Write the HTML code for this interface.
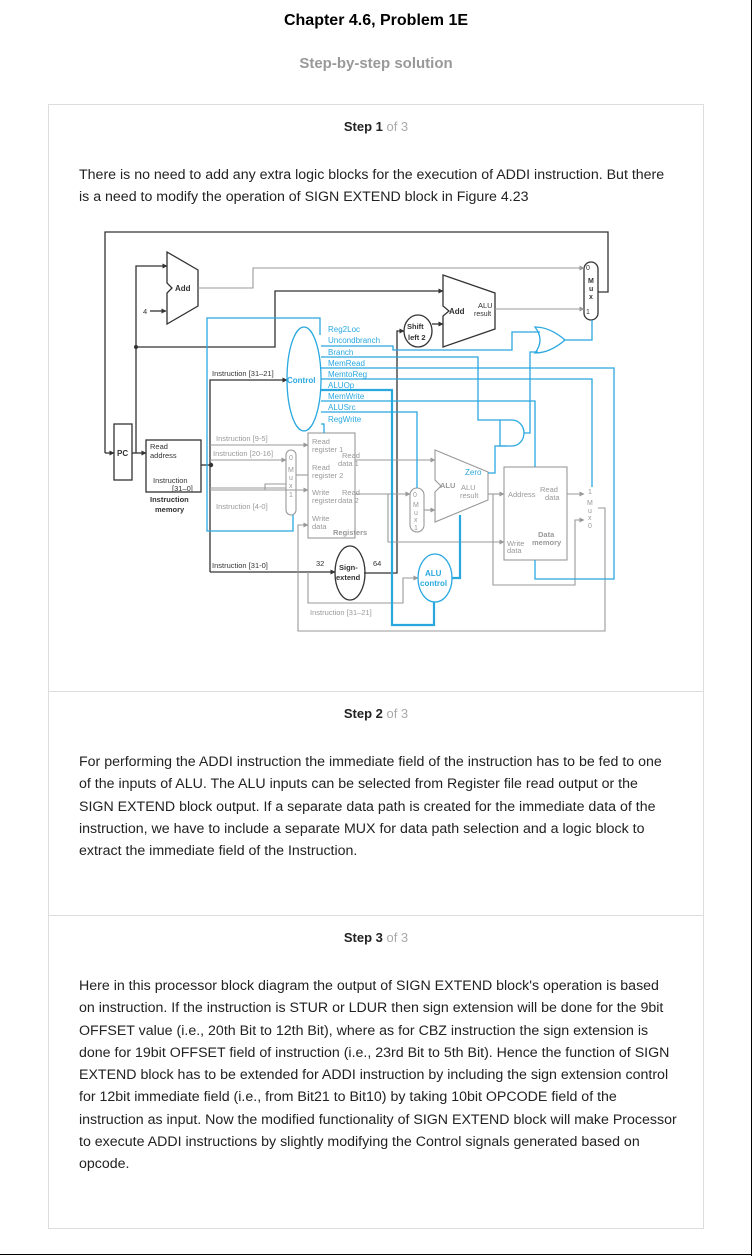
<!DOCTYPE html>
<html><head><meta charset="utf-8"><style>
body{margin:0;width:752px;height:1256px;background:#fff;font-family:"Liberation Sans",Arial,sans-serif;position:relative;overflow:hidden;border-right:1px solid #000;box-sizing:border-box}
.t{position:absolute;left:0;width:752px;text-align:center}
.card{position:absolute;left:48px;top:104px;width:654px;height:1123px;border:1px solid #ddd}
.div{position:absolute;left:48px;width:656px;border-top:1px solid #ddd}
.step{position:absolute;left:48px;width:656px;text-align:center;font-size:13px;font-weight:bold;color:#222}
.step span{color:#aaa;font-weight:normal}
.p{position:absolute;left:79px;width:620px;white-space:nowrap;font-size:14.2px;line-height:22.3px;color:#222}
svg text{font-family:"Liberation Sans",Arial,sans-serif}
</style></head><body>
<div class="t" style="top:12px;font-size:16px;font-weight:bold">Chapter 4.6, Problem 1E</div>
<div class="t" style="top:55px;font-size:15px;font-weight:bold;color:#999">Step-by-step solution</div>
<div class="card"></div>
<div class="step" style="top:119px">Step 1 <span>of 3</span></div>
<div class="p" style="top:164px">There is no need to add any extra logic blocks for the execution of ADDI instruction. But there<br>is a need to modify the operation of SIGN EXTEND block in Figure 4.23</div>
<svg style="position:absolute;left:0;top:0" width="752" height="700" font-size="8">
<defs>
<marker id="a" markerWidth="5" markerHeight="5" refX="4.5" refY="2.5" orient="auto" markerUnits="userSpaceOnUse"><path d="M0,0L5,2.5L0,5Z" fill="#333"/></marker>
<marker id="g" markerWidth="5" markerHeight="5" refX="4.5" refY="2.5" orient="auto" markerUnits="userSpaceOnUse"><path d="M0,0L5,2.5L0,5Z" fill="#999"/></marker>
</defs>
<g fill="none" stroke="#333" stroke-width="1.3">
<polyline points="105,453 105,232 608,232 608,292 598,292"/>
<line x1="105" y1="453" x2="114" y2="453" marker-end="url(#a)"/>
<rect x="114" y="424" width="18" height="56"/>
<polyline points="132,453 146,453" marker-end="url(#a)"/>
<polyline points="136,453 136,266 167,266" marker-end="url(#a)"/>
<polyline points="136,347 275,347 275,291 443,291" marker-end="url(#a)"/>
<polygon points="167,252 198,270 198,306 167,324 167,293 172,288 167,283"/>
<line x1="150" y1="311" x2="166" y2="311" marker-end="url(#a)"/>
<rect x="146" y="440" width="55" height="52"/>
<polyline points="201,465 211,465"/>
<polyline points="210,572 210,380 287,380" marker-end="url(#a)"/>
<polyline points="210,572 335,572" marker-end="url(#a)"/>
<polyline points="364,573 397,573 397,331 404,331" marker-end="url(#a)"/>
<line x1="432" y1="324" x2="443" y2="324" marker-end="url(#a)"/>
<polygon points="443,275 495,293 495,329 443,347 443,316 449,311 443,306"/>
<ellipse cx="418" cy="331" rx="14" ry="16"/>
<ellipse cx="350" cy="573" rx="15" ry="27"/>
<rect x="584" y="262" width="14" height="58" rx="7"/>
</g>
<g fill="#333"><circle cx="136" cy="347" r="2"/><circle cx="211" cy="465" r="2.2"/></g>
<g fill="none" stroke="#999" stroke-width="1.1">
<polyline points="198,288 253,288 253,268 584,268" marker-end="url(#g)"/>
<polyline points="495,309 584,309" marker-end="url(#g)"/>
<polyline points="210,445 308,445" marker-end="url(#g)"/><polyline points="210,460 286,460" marker-end="url(#g)"/><polyline points="210,490 308,490" marker-end="url(#g)"/>
<polyline points="210,488 286,488"/><polyline points="265,490 265,484 286,484"/>
<polyline points="296,475 308,475"/>
<rect x="308" y="433" width="47" height="105"/>
<rect x="286" y="450" width="10" height="65" rx="5"/>
<polyline points="355,460 435,460" marker-end="url(#g)"/>
<polyline points="355,494 410,494" marker-end="url(#g)"/><polyline points="388,494 388,542 504,542" marker-end="url(#g)"/>
<polygon points="435,450 488,472 488,500 435,522 435,492 441,486 435,480"/>
<rect x="410" y="488" width="14" height="44" rx="7"/>
<polyline points="424,510 435,510" marker-end="url(#g)"/>
<polyline points="488,494 504,494" marker-end="url(#g)"/><polyline points="493,494 493,585 575,585 575,520 584,520" marker-end="url(#g)"/>
<rect x="504" y="467" width="63" height="93"/>
<polyline points="567,494 584,494" marker-end="url(#g)"/>
<polyline points="598,508 605,508 605,631 298,631 298,525 308,525" marker-end="url(#g)"/>
<polyline points="308,572 308,603 403,603 403,578 418,578" marker-end="url(#g)"/>
</g>
<g fill="none" stroke="#29a8e0" stroke-width="1.3">
<ellipse cx="304" cy="379" rx="17" ry="52"/>
<polyline points="320,335 320,318 207,318 207,531 293,531 293,515"/>
<polyline points="321,346 393,346 393,350 512,350 512,332 540,332"/>
<polyline points="321,357 478,357 478,420 500,420"/>
<polyline points="321,368 614,368 614,579 535,579 535,560"/>
<polyline points="321,379 592,379 592,487"/>
<polyline points="321,401 535,401 535,467"/>
<polyline points="321,412 417,412 417,488"/>
<polyline points="321,424 324,424 324,433"/>
<path d="M535,327 Q550,327 565,340 Q550,353 535,353 Q545,340 535,327Z"/>
<polyline points="565,340 592,340 592,320"/>
<path d="M500,420 L512,420 A12,13 0 0 1 512,446 L500,446Z"/>
<polyline points="524,433 530,433 530,352 538,352"/>
<polyline points="488,473 495,473 495,446 506,446"/>
<ellipse cx="435" cy="578" rx="17" ry="24"/>
</g>
<g fill="none" stroke="#29a8e0" stroke-width="2.2">
<polyline points="321,390 392,390 392,625 434,625 434,602"/>
<polyline points="452,578 460,578 460,515"/>
</g>
<g fill="#333" font-weight="bold">
<text x="175" y="291">Add</text><text x="117" y="456">PC</text>
<text x="449" y="314" font-size="8">Add</text>
<text x="407" y="329" font-size="7.5">Shift</text><text x="408" y="340" font-size="7.5">left 2</text>
<text x="339" y="570" font-size="7.5">Sign-</text><text x="336" y="580" font-size="7.5">extend</text>
<text x="588" y="283" font-size="7">M</text><text x="589" y="291" font-size="7">u</text><text x="589" y="299" font-size="7">x</text>
<text x="150" y="502" font-size="7.5">Instruction</text><text x="155" y="512" font-size="7.5">memory</text>
</g>
<g fill="#333" font-size="7.5">
<text x="143" y="314">4</text><text x="150" y="449">Read</text><text x="150" y="458">address</text>
<text x="153" y="483">Instruction</text><text x="172" y="491">[31–0]</text>
<text x="212" y="376">Instruction [31–21]</text><text x="212" y="568">Instruction [31-0]</text>
<text x="478" y="308">ALU</text><text x="474" y="316" font-size="7">result</text>
<text x="586" y="270" font-size="7">0</text><text x="586" y="314" font-size="7">1</text>
<text x="316" y="566">32</text><text x="373" y="566">64</text>
</g>
<g fill="#999" font-size="7.5">
<text x="216" y="441">Instruction [9-5]</text><text x="213" y="456">Instruction [20-16]</text><text x="216" y="509">Instruction [4-0]</text>
<text x="312" y="444">Read</text><text x="312" y="452">register 1</text><text x="312" y="470">Read</text><text x="312" y="478">register 2</text>
<text x="312" y="495">Write</text><text x="312" y="503">register</text><text x="312" y="521">Write</text><text x="312" y="529">data</text>
<text x="333" y="535" font-weight="bold">Registers</text>
<text x="342" y="458">Read</text><text x="338" y="466">data 1</text><text x="342" y="495">Read</text><text x="338" y="503">data 2</text>
<text x="440" y="488" font-weight="bold">ALU</text><text x="461" y="490">ALU</text><text x="460" y="498">result</text>
<text x="508" y="497">Address</text><text x="540" y="492">Read</text><text x="545" y="500">data</text>
<text x="507" y="546">Write</text><text x="507" y="553">data</text><text x="538" y="537" font-weight="bold">Data</text><text x="532" y="545" font-weight="bold">memory</text>
<text x="310" y="615">Instruction [31–21]</text>
<text x="289" y="460" font-size="7">0</text><text x="288" y="472" font-size="7">M</text><text x="289" y="480" font-size="7">u</text><text x="289" y="488" font-size="7">x</text><text x="289" y="497" font-size="7">1</text>
<text x="413" y="497" font-size="7">0</text><text x="413" y="507" font-size="7">M</text><text x="414" y="515" font-size="7">u</text><text x="414" y="522" font-size="7">x</text><text x="414" y="530" font-size="7">1</text>
<text x="588" y="494" font-size="7">1</text><text x="587" y="505" font-size="7">M</text><text x="588" y="513" font-size="7">u</text><text x="588" y="520" font-size="7">x</text><text x="588" y="528" font-size="7">0</text>
</g>
<g fill="#29a8e0" font-size="8">
<text x="287" y="383" font-weight="bold">Control</text>
<text x="328" y="332">Reg2Loc</text><text x="328" y="343">Uncondbranch</text><text x="328" y="355">Branch</text>
<text x="328" y="366">MemRead</text><text x="328" y="377">MemtoReg</text><text x="328" y="388">ALUOp</text>
<text x="328" y="399">MemWrite</text><text x="328" y="410">ALUSrc</text><text x="328" y="422">RegWrite</text>
<text x="465" y="475">Zero</text>
<text x="425" y="576" font-weight="bold">ALU</text><text x="420" y="586" font-weight="bold">control</text>
</g>
</svg>
<div class="div" style="top:691px"></div>
<div class="step" style="top:706px">Step 2 <span>of 3</span></div>
<div class="p" style="top:751px">For performing the ADDI instruction the immediate field of the instruction has to be fed to one<br>of the inputs of ALU. The ALU inputs can be selected from Register file read output or the<br>SIGN EXTEND block output. If a separate data path is created for the immediate data of the<br>instruction, we have to include a separate MUX for data path selection and a logic block to<br>extract the immediate field of the Instruction.</div>
<div class="div" style="top:915px"></div>
<div class="step" style="top:930px">Step 3 <span>of 3</span></div>
<div class="p" style="top:975px">Here in this processor block diagram the output of SIGN EXTEND block's operation is based<br>on instruction. If the instruction is STUR or LDUR then sign extension will be done for the 9bit<br>OFFSET value (i.e., 20th Bit to 12th Bit), where as for CBZ instruction the sign extension is<br>done for 19bit OFFSET field of instruction (i.e., 23rd Bit to 5th Bit). Hence the function of SIGN<br>EXTEND block has to be extended for ADDI instruction by including the sign extension control<br>for 12bit immediate field (i.e., from Bit21 to Bit10) by taking 10bit OPCODE field of the<br>instruction as input. Now the modified functionality of SIGN EXTEND block will make Processor<br>to execute ADDI instructions by slightly modifying the Control signals generated based on<br>opcode.</div>
<div style="position:absolute;left:0;top:1254px;width:752px;border-top:1px solid #000"></div>
</body></html>
